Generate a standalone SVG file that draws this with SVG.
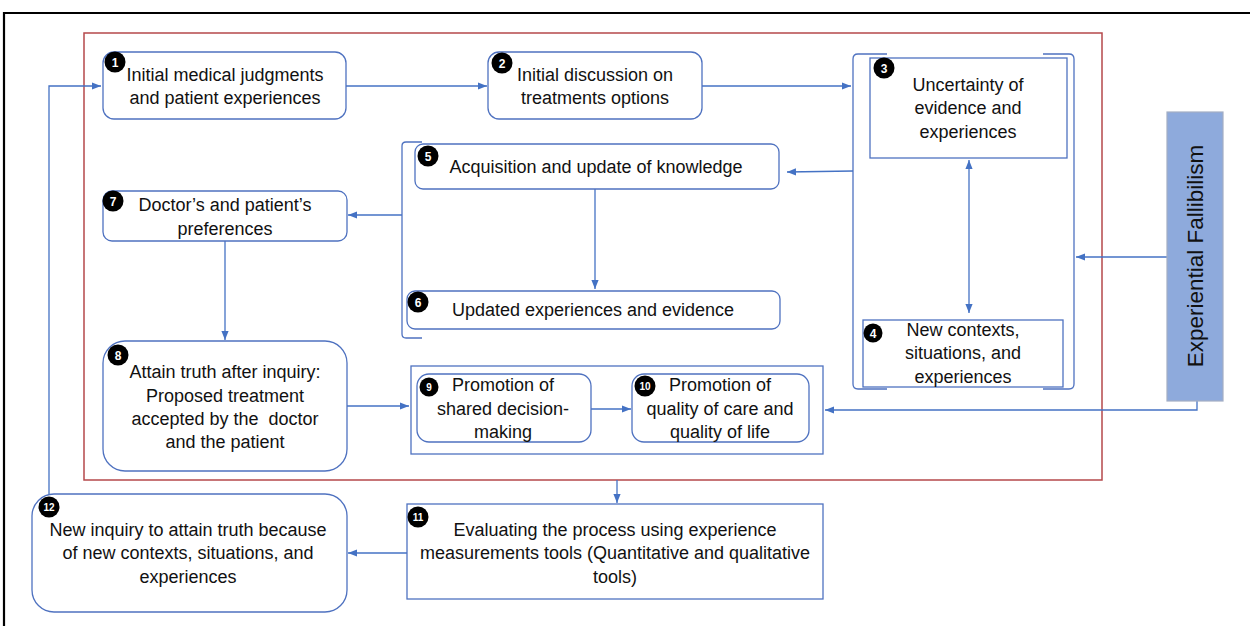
<svg xmlns="http://www.w3.org/2000/svg" width="1250" height="626" viewBox="0 0 1250 626">
<style>
.t{font-family:"Liberation Sans",Arial,sans-serif;font-size:18px;fill:#111;text-anchor:middle;white-space:pre}
.n{fill:#fff;stroke:#4f72c0;stroke-width:1.3}
.b{fill:#000}
.bt{font-family:"Liberation Sans",Arial,sans-serif;font-size:12px;font-weight:bold;fill:#fff;text-anchor:middle}
.bt2{font-family:"Liberation Sans",Arial,sans-serif;font-size:10px;font-weight:bold;fill:#fff;text-anchor:middle}
.c{fill:none;stroke:#4472c4;stroke-width:1.3}
.br{fill:none;stroke:#4f72c0;stroke-width:1.3}
</style>
<defs>
<marker id="ah" viewBox="0 0 10 10" refX="10" refY="5" markerWidth="9" markerHeight="9" markerUnits="userSpaceOnUse" orient="auto-start-reverse">
<path d="M0,1 L10,5 L0,9 z" fill="#4472c4"/>
</marker>
</defs>
<rect width="1250" height="626" fill="#fff"/>
<path d="M4,626 L4,13 L1250,13" fill="none" stroke="#000" stroke-width="2.2"/>
<rect x="84" y="33" width="1018" height="447" fill="none" stroke="#b5484b" stroke-width="1.5"/>

<g id="brackets">
<path class="br" d="M887,54 L858,54 Q853,54 853,59 L853,384 Q853,389 858,389 L887,389"/>
<path class="br" d="M1043,54 L1069,54 Q1074,54 1074,59 L1074,384 Q1074,389 1069,389 L1043,389"/>
<path class="br" d="M422,142 L406,142 Q402,142 402,146 L402,334 Q402,338 406,338 L422,338"/>
<rect id="group-9-10" x="411" y="366" width="412" height="88" fill="none" stroke="#4f72c0" stroke-width="1.3"/>
</g>

<g id="connectors">
<path class="c" d="M49,494 L49,86 L101,86" marker-end="url(#ah)"/>
<path class="c" d="M346,86 L487,86" marker-end="url(#ah)"/>
<path class="c" d="M702,86 L851,86" marker-end="url(#ah)"/>
<path class="c" d="M853,171 L787,172" marker-end="url(#ah)"/>
<path class="c" d="M402,215 L348,215" marker-end="url(#ah)"/>
<path class="c" d="M595,189 L595,289" marker-end="url(#ah)"/>
<path class="c" d="M225,241 L225,340" marker-end="url(#ah)"/>
<path class="c" d="M347,406 L409,406" marker-end="url(#ah)"/>
<path class="c" d="M591,409 L631,409" marker-end="url(#ah)"/>
<path class="c" d="M1167,257 L1076,257" marker-end="url(#ah)"/>
<path class="c" d="M1197,401 L1197,410 L825,410" marker-end="url(#ah)"/>
<path class="c" d="M969,160 L969,313" marker-start="url(#ah)" marker-end="url(#ah)"/>
<path class="c" d="M617,480 L617,503" marker-end="url(#ah)"/>
<path class="c" d="M407,553 L348,553" marker-end="url(#ah)"/>
</g>

<g id="node1">
<rect class="n" x="103" y="52" width="243" height="67" rx="11"/>
<circle class="b" cx="115" cy="62" r="10.5"/><text class="bt" x="115" y="66.5">1</text>
<text class="t" x="225" y="81">Initial medical judgments</text>
<text class="t" x="225" y="104">and patient experiences</text>
</g>
<g id="node2">
<rect class="n" x="488" y="52" width="214" height="67" rx="11"/>
<circle class="b" cx="502" cy="63" r="10.5"/><text class="bt" x="502" y="67.5">2</text>
<text class="t" x="595" y="81">Initial discussion on</text>
<text class="t" x="595" y="104">treatments options</text>
</g>
<g id="node3">
<rect class="n" x="870" y="58" width="197" height="100"/>
<circle class="b" cx="884" cy="68" r="10.5"/><text class="bt" x="884" y="72.5">3</text>
<text class="t" x="968" y="91">Uncertainty of</text>
<text class="t" x="968" y="114">evidence and</text>
<text class="t" x="968" y="138">experiences</text>
</g>
<g id="node4">
<rect class="n" x="863" y="320" width="200" height="67"/>
<circle class="b" cx="873" cy="333" r="9.5"/><text class="bt" x="873" y="337.5">4</text>
<text class="t" x="963" y="336">New contexts,</text>
<text class="t" x="963" y="359">situations, and</text>
<text class="t" x="963" y="383">experiences</text>
</g>
<g id="node5">
<rect class="n" x="415" y="144" width="364" height="45" rx="8"/>
<circle class="b" cx="428" cy="156" r="10.5"/><text class="bt" x="428" y="160.5">5</text>
<text class="t" x="596" y="173">Acquisition and update of knowledge</text>
</g>
<g id="node6">
<rect class="n" x="407" y="291" width="373" height="38" rx="8"/>
<circle class="b" cx="418" cy="302" r="10.5"/><text class="bt" x="418" y="306.5">6</text>
<text class="t" x="593" y="316">Updated experiences and evidence</text>
</g>
<g id="node7">
<rect class="n" x="103" y="191" width="244" height="50" rx="9"/>
<circle class="b" cx="113" cy="201" r="10.5"/><text class="bt" x="113" y="205.5">7</text>
<text class="t" x="225" y="211">Doctor’s and patient’s</text>
<text class="t" x="225" y="235">preferences</text>
</g>
<g id="node8">
<rect class="n" x="103" y="341" width="244" height="130" rx="22"/>
<circle class="b" cx="118" cy="355" r="10.5"/><text class="bt" x="118" y="359.5">8</text>
<text class="t" x="225" y="378">Attain truth after inquiry:</text>
<text class="t" x="225" y="402">Proposed treatment</text>
<text class="t" x="225" y="425" xml:space="preserve">accepted by the  doctor</text>
<text class="t" x="225" y="448">and the patient</text>
</g>
<g id="node9">
<rect class="n" x="417" y="374" width="174" height="68" rx="12"/>
<circle class="b" cx="429" cy="387" r="9.5"/><text class="bt2" x="429" y="390.5">9</text>
<text class="t" x="503" y="391">Promotion of</text>
<text class="t" x="503" y="415">shared decision-</text>
<text class="t" x="503" y="438">making</text>
</g>
<g id="node10">
<rect class="n" x="632" y="374" width="177" height="68" rx="12"/>
<circle class="b" cx="645" cy="386" r="10.5"/><text class="bt2" x="645" y="389.5">10</text>
<text class="t" x="720" y="391">Promotion of</text>
<text class="t" x="720" y="415">quality of care and</text>
<text class="t" x="720" y="438">quality of life</text>
</g>
<g id="node11">
<rect class="n" x="407" y="504" width="416" height="95"/>
<circle class="b" cx="418" cy="517" r="10.5"/><text class="bt2" x="418" y="520.5">11</text>
<text class="t" x="615" y="536">Evaluating the process using experience</text>
<text class="t" x="615" y="559">measurements tools (Quantitative and qualitative</text>
<text class="t" x="615" y="583">tools)</text>
</g>
<g id="node12">
<rect class="n" x="32" y="494" width="315" height="118" rx="22"/>
<circle class="b" cx="49" cy="507" r="10.5"/><text class="bt2" x="49" y="510.5">12</text>
<text class="t" x="188" y="536">New inquiry to attain truth because</text>
<text class="t" x="188" y="559">of new contexts, situations, and</text>
<text class="t" x="188" y="583">experiences</text>
</g>
<g id="fallibilism">
<rect x="1167" y="112" width="56" height="289" fill="#8eaadc" stroke="#a3aec4" stroke-width="1.2"/>
<text class="t" transform="translate(1203,256) rotate(-90)" style="font-size:22.5px">Experiential Fallibilism</text>
</g>
</svg>
